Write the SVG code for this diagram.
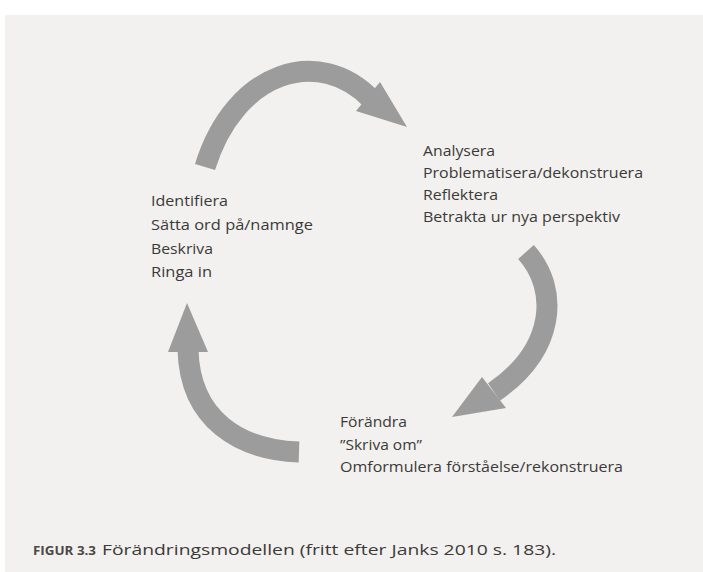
<svg xmlns="http://www.w3.org/2000/svg" width="703" height="572" viewBox="0 0 703 572">
<style>
.t{font-family:"Open Sans","Noto Sans","Liberation Sans",sans-serif;font-size:15px;fill:#3b3a38}
.shaft{fill:none;stroke:#9c9c9c;stroke-width:21}
.head{fill:#9c9c9c}
.cap{font-family:"Open Sans","Noto Sans","Liberation Sans",sans-serif;font-size:14.5px;fill:#3b3a38}
.capb{font-family:"Open Sans","Noto Sans","Liberation Sans",sans-serif;font-size:11.5px;font-weight:bold;fill:#4a4947}
</style>
<rect x="0" y="0" width="703" height="572" fill="#ffffff"/>
<rect x="5" y="15" width="698" height="557" fill="#f2f1ef"/>
<g id="connectors">
<g id="arrow-top">
<path class="shaft" d="M205,167 C235,70 320,45 372,100"/>
<polygon class="head" points="380,82 407,127 356,111"/>
</g>
<g id="arrow-right">
<path class="shaft" d="M526,252 C560,290 555,350 494,392"/>
<polygon class="head" points="482,377 452,417 506,408"/>
</g>
<g id="arrow-left">
<path class="shaft" d="M299,452 C240,450 190,420 188,350"/>
<polygon class="head" points="168,352 187,303 208,352"/>
</g>
</g>
<g id="node-identify">
<text class="t" x="151" y="206" textLength="77" lengthAdjust="spacingAndGlyphs">Identifiera</text>
<text class="t" x="151" y="230" textLength="162" lengthAdjust="spacingAndGlyphs">Sätta ord på/namnge</text>
<text class="t" x="151" y="254" textLength="62" lengthAdjust="spacingAndGlyphs">Beskriva</text>
<text class="t" x="151" y="277" textLength="61" lengthAdjust="spacingAndGlyphs">Ringa in</text>
</g>
<g id="node-analyse">
<text class="t" x="423" y="156" textLength="72" lengthAdjust="spacingAndGlyphs">Analysera</text>
<text class="t" x="423" y="178" textLength="220" lengthAdjust="spacingAndGlyphs">Problematisera/dekonstruera</text>
<text class="t" x="423" y="200" textLength="75" lengthAdjust="spacingAndGlyphs">Reflektera</text>
<text class="t" x="423" y="222" textLength="197" lengthAdjust="spacingAndGlyphs">Betrakta ur nya perspektiv</text>
</g>
<g id="node-change">
<text class="t" x="340" y="427" textLength="67" lengthAdjust="spacingAndGlyphs">Förändra</text>
<text class="t" x="340" y="450" textLength="82" lengthAdjust="spacingAndGlyphs">”Skriva om”</text>
<text class="t" x="340" y="472" textLength="283" lengthAdjust="spacingAndGlyphs">Omformulera förståelse/rekonstruera</text>
</g>
<g id="caption">
<text class="capb" x="33" y="555" textLength="63" lengthAdjust="spacingAndGlyphs">FIGUR 3.3</text>
<text class="cap" x="102" y="555" textLength="454" lengthAdjust="spacingAndGlyphs">Förändringsmodellen (fritt efter Janks 2010 s. 183).</text>
</g>
</svg>
